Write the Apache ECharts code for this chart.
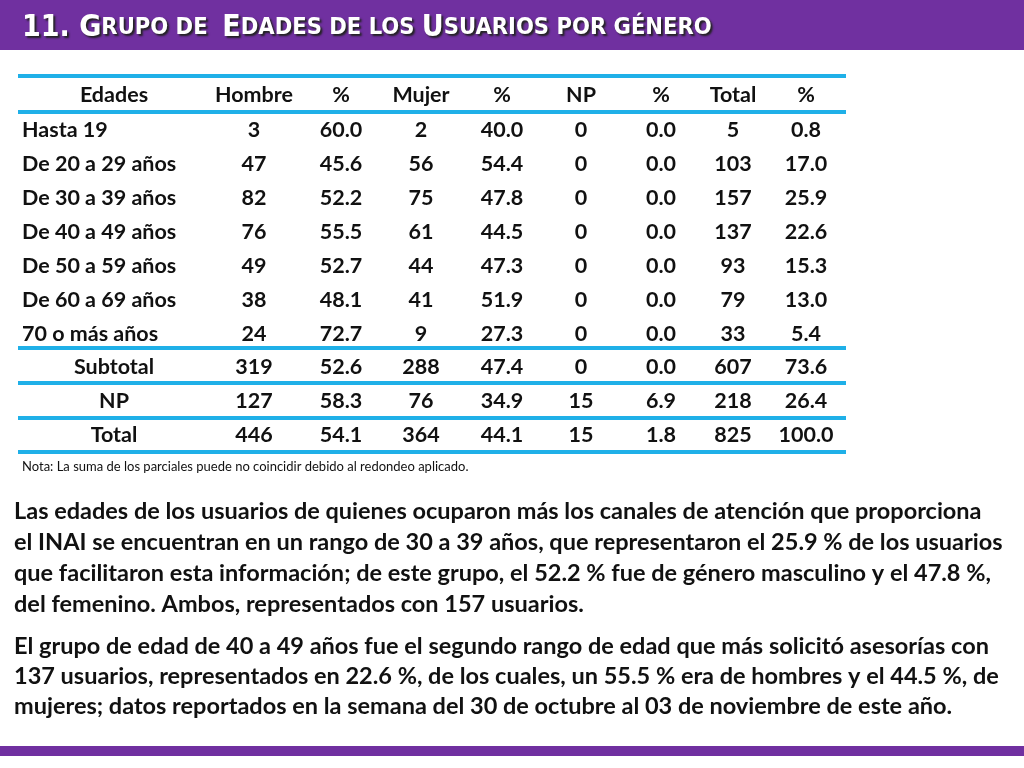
<!DOCTYPE html>
<html>
<head>
<meta charset="utf-8">
<script src="https://cdn.jsdelivr.net/npm/echarts@6/dist/echarts.min.js"></script>
<style>html,body{margin:0;padding:0;background:#fff}#main{width:1024px;height:768px}</style>
</head>
<body>
<div id="main"></div>
<script>
var chart = echarts.init(document.getElementById("main"));

var headers = ["Edades", "Hombre", "%", "Mujer", "%", "NP", "%", "Total", "%"];
var ages = ["Hasta 19", "De 20 a 29 años", "De 30 a 39 años", "De 40 a 49 años", "De 50 a 59 años", "De 60 a 69 años", "70 o más años"];
var hombre = [3, 47, 82, 76, 49, 38, 24];
var hombre_pct = ["60.0", "45.6", "52.2", "55.5", "52.7", "48.1", "72.7"];
var mujer = [2, 56, 75, 61, 44, 41, 9];
var mujer_pct = ["40.0", "54.4", "47.8", "44.5", "47.3", "51.9", "27.3"];
var np = [0, 0, 0, 0, 0, 0, 0];
var np_pct = ["0.0", "0.0", "0.0", "0.0", "0.0", "0.0", "0.0"];
var total = [5, 103, 157, 137, 93, 79, 33];
var total_pct = ["0.8", "17.0", "25.9", "22.6", "15.3", "13.0", "5.4"];
// filas de resumen
var sum_rows = [
    ["Subtotal", 319, "52.6", 288, "47.4", 0, "0.0", 607, "73.6"],
    ["NP", 127, "58.3", 76, "34.9", 15, "6.9", 218, "26.4"],
    ["Total", 446, "54.1", 364, "44.1", 15, "1.8", 825, "100.0"]
];
var nota = "Nota: La suma de los parciales puede no coincidir debido al redondeo aplicado.";
var parrafo1 = [
    "Las edades de los usuarios de quienes ocuparon más los canales de atención que proporciona",
    "el INAI se encuentran en un rango de 30 a 39 años, que representaron el 25.9 % de los usuarios",
    "que facilitaron esta información; de este grupo, el 52.2 % fue de género masculino y el 47.8 %,",
    "del femenino. Ambos, representados con 157 usuarios."
];
var parrafo2 = [
    "El grupo de edad de 40 a 49 años fue el segundo rango de edad que más solicitó asesorías con",
    "137 usuarios, representados en 22.6 %, de los cuales, un 55.5 % era de hombres y el 44.5 %, de",
    "mujeres; datos reportados en la semana del 30 de octubre al 03 de noviembre de este año."
];

var col_x = [114, 254, 341, 421, 502, 581, 661, 733, 806];
var font = "Lato, 'Open Sans', sans-serif";
var g = [];

g.push({ type: 'rect', shape: { x: 0, y: 0, width: 1024, height: 50 }, style: { fill: '#7030a0' } });
g.push({ type: 'rect', shape: { x: 0, y: 746, width: 1024, height: 10 }, style: { fill: '#7030a0' } });
var tfont = "'Liberation Sans Narrow', 'DejaVu Sans Condensed', sans-serif";
var tsh = { fill: '#fff', textShadowColor: '#222', textShadowOffsetX: 2, textShadowOffsetY: 2, textShadowBlur: 2, fontWeight: 'bold', fontFamily: tfont };
g.push({
    type: 'text', x: 22, y: 28,
    style: {
        text: '{b|11. G}{s|RUPO DE  }{b|E}{s|DADES DE LOS }{b|U}{s|SUARIOS POR GÉNERO}',
        verticalAlign: 'middle',
        rich: {
            b: Object.assign({ fontSize: 30 }, tsh),
            s: Object.assign({ fontSize: 23.5 }, tsh)
        }
    }
});

[76, 112, 348, 383, 418, 452].forEach(function (y) {
    g.push({ type: 'line', shape: { x1: 18, y1: y, x2: 846, y2: y }, style: { stroke: '#1fb0e8', lineWidth: 4 } });
});

function cell(txt, x, y, align) {
    g.push({ type: 'text', x: x, y: y, style: { text: String(txt), fontSize: 21.5, fontWeight: 'bold', fontFamily: font, fill: '#111', align: align || 'center', verticalAlign: 'middle' } });
}

headers.forEach(function (h, i) { cell(h, col_x[i], 95); });
for (var r = 0; r < ages.length; r++) {
    var y = 130 + r * 34;
    var vals = [hombre[r], hombre_pct[r], mujer[r], mujer_pct[r], np[r], np_pct[r], total[r], total_pct[r]];
    cell(ages[r], 22, y, 'left');
    vals.forEach(function (v, i) { cell(v, col_x[i + 1], y); });
}
sum_rows.forEach(function (row, r) {
    row.forEach(function (v, i) { cell(v, col_x[i], 367 + r * 34); });
});

g.push({ type: 'text', x: 22, y: 467, style: { text: nota, fontSize: 13, fontFamily: font, fill: '#111', verticalAlign: 'middle' } });

function para(lines, y0, step) {
    lines.forEach(function (l, i) {
        g.push({ type: 'text', x: 14, y: y0 + i * step, style: { text: l, fontSize: 23.5, fontWeight: 'bold', fontFamily: font, fill: '#111', verticalAlign: 'middle' } });
    });
}
para(parrafo1, 511, 31);
para(parrafo2, 646, 30);

chart.setOption({ animation: false, graphic: g });
</script>
</body>
</html>
